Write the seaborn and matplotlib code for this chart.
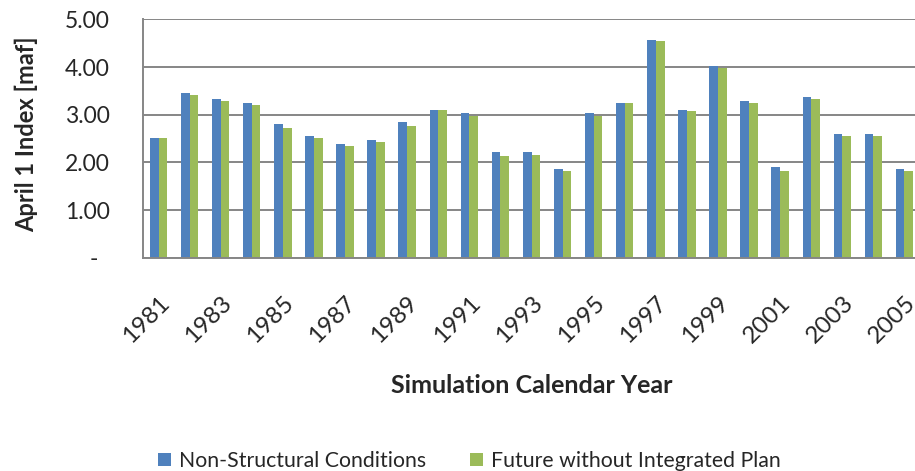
"""
April 1 Index por año de simulación: dos escenarios en barras agrupadas.
"""

import matplotlib
from matplotlib import pyplot as plt
import seaborn as sns
import pandas as pd

matplotlib.use('Agg')

sns.set_style("white")
plt.rcParams['font.family'] = ['Lato', 'DejaVu Sans']

# Datos
years = list(range(1981, 2006))
non_structural = [2.52, 3.45, 3.33, 3.24, 2.81, 2.55, 2.38, 2.46, 2.85, 3.11,
                  3.03, 2.21, 2.21, 1.86, 3.03, 3.24, 4.58, 3.11, 4.02, 3.29,
                  1.90, 3.37, 2.59, 2.59, 1.86]
future_without = [2.52, 3.41, 3.29, 3.20, 2.73, 2.51, 2.34, 2.42, 2.77, 3.11,
                  2.98, 2.13, 2.16, 1.82, 2.98, 3.24, 4.54, 3.07, 3.98, 3.24,
                  1.82, 3.33, 2.55, 2.55, 1.82]
series_names = ['Non-Structural Conditions', 'Future without Integrated Plan']
y_ticks = [0, 1, 2, 3, 4, 5]
y_labels = ['-  ', '1.00', '2.00', '3.00', '4.00', '5.00']
x_labels = [str(y) if (y - 1981) % 2 == 0 else '' for y in years]

colores = {series_names[0]: '#4F81BD', series_names[1]: '#9BBB59'}
gris = '#868686'

# Tabla en formato largo para seaborn
df = pd.DataFrame({
    'year': [str(y) for y in years] * 2,
    'value': non_structural + future_without,
    'serie': [series_names[0]] * len(years) + [series_names[1]] * len(years),
})

fig = plt.figure(figsize=(9.15, 4.71), dpi=100)
# El área de trazado sale un poco por la derecha, como en la imagen original
ax = fig.add_axes([0.1563, 0.4529, 0.8492, 0.5057])

sns.barplot(data=df, x='year', y='value', hue='serie', hue_order=series_names,
            palette=colores, width=0.56, linewidth=0, saturation=1, ax=ax,
            legend=True)

ax.set_ylim(0, 5)
ax.set_xlim(-0.5, len(years) - 0.5)
ax.set_yticks(y_ticks)
ax.set_yticklabels(y_labels)
ax.set_xticks(range(len(years)))
ax.set_xticklabels(x_labels, rotation=45, ha='right', va='top',
                   rotation_mode='anchor')

ax.yaxis.grid(True, color=gris, linewidth=1.4)
ax.set_axisbelow(True)
for lado in ['top', 'right']:
    ax.spines[lado].set_visible(False)
for lado in ['left', 'bottom']:
    ax.spines[lado].set_color(gris)
    ax.spines[lado].set_linewidth(1.4)

ax.tick_params(axis='y', length=0, pad=24, labelsize=16.5)
ax.tick_params(axis='x', length=0, pad=25, labelsize=17.5)

ax.set_ylabel('April 1 Index [maf]', fontsize=17, fontweight='bold')
ax.yaxis.set_label_coords(-0.135, 0.52)
ax.set_xlabel('Simulation Calendar Year', fontsize=18, fontweight='bold',
              va='top')
ax.xaxis.set_label_coords(0.5, -0.488)

# Leyenda en la parte inferior, fuera del área de trazado
handles, labels = ax.get_legend_handles_labels()
ax.get_legend().remove()
fig.legend(handles, labels, loc='center', bbox_to_anchor=(0.513, 0.021),
           ncol=2, frameon=False, fontsize=15.3, handlelength=0.6,
           handleheight=0.6, handletextpad=0.35, columnspacing=2.1)

fig.savefig('out.png', dpi=100)
plt.close(fig)
